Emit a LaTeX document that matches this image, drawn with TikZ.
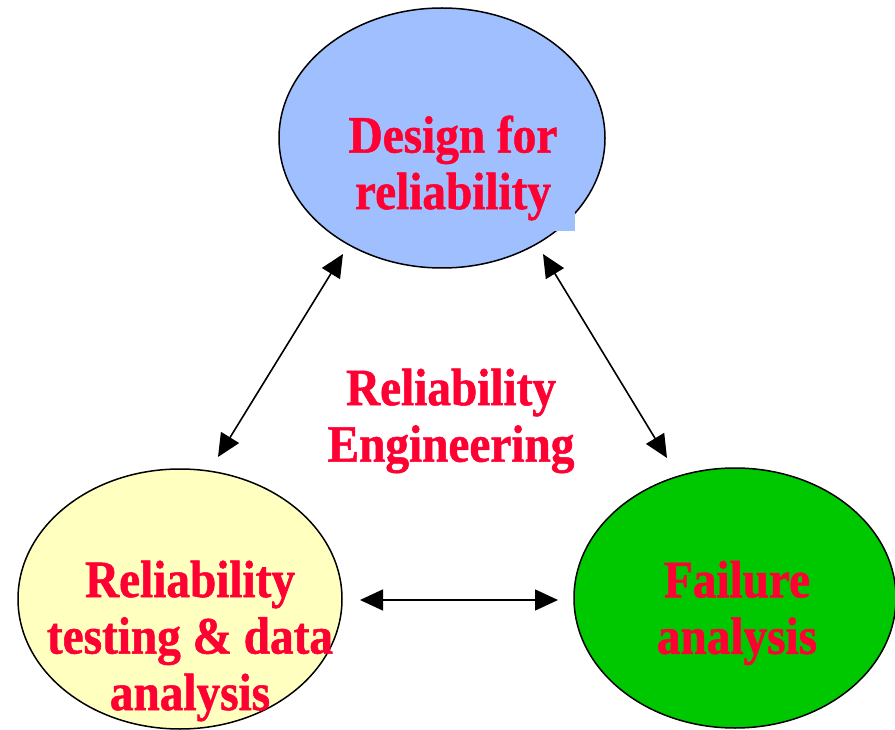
\documentclass[tikz,border=0pt]{standalone}
\usepackage{fontspec}
\newfontfamily\lblfont{Liberation Serif}[FakeStretch=0.9,FakeBold=1]
\usetikzlibrary{arrows.meta,shapes.geometric}
\definecolor{lblred}{HTML}{FF0033}
\definecolor{designblue}{HTML}{A0BFFF}
\definecolor{testyellow}{HTML}{FFFFC0}
\definecolor{failgreen}{HTML}{00C800}
\begin{document}
\begin{tikzpicture}[x=1pt,y=-1pt,
  bubble/.style={ellipse, draw=black, line width=1.5pt, inner sep=0pt},
  lbl/.style={text=lblred, align=center, inner sep=0pt,
    font=\lblfont\bfseries\fontsize{52.5}{56.5}\selectfont},
  link/.style={line width=1.6pt, {Triangle[length=23pt,width=21pt]}-{Triangle[length=23pt,width=21pt]}}]
\path[use as bounding box] (0,0) rectangle (895,730);

% three activity bubbles
\node[bubble, fill=designblue, minimum width=326pt, minimum height=260pt] (design) at (442,138) {};
\fill[designblue] (548,210) rectangle (575,231);
\node[bubble, fill=testyellow, minimum width=324pt, minimum height=260pt] (testing) at (180,599) {};
\node[bubble, fill=failgreen, minimum width=322pt, minimum height=260pt] (failure) at (735,598) {};

% labels
\node[lbl] (designtxt) at (453,168) {Design for\\reliability};
\node[lbl] (coretxt) at (451,421) {Reliability\\Engineering};
\node[lbl] (testtxt) at (190,641) {Reliability\\testing \& data\\analysis};
\node[lbl] (failtxt) at (737,613) {Failure\\analysis};

% arrow end points
\coordinate (dl) at (343,254);
\coordinate (dr) at (543,254);
\coordinate (tu) at (218,457);
\coordinate (th) at (360,600);
\coordinate (fu) at (667,458);
\coordinate (fh) at (558,600);

\draw[link] (tu) -- (dl);
\draw[link] (fu) -- (dr);
\draw[link] (th) -- (fh);
\end{tikzpicture}
\end{document}
